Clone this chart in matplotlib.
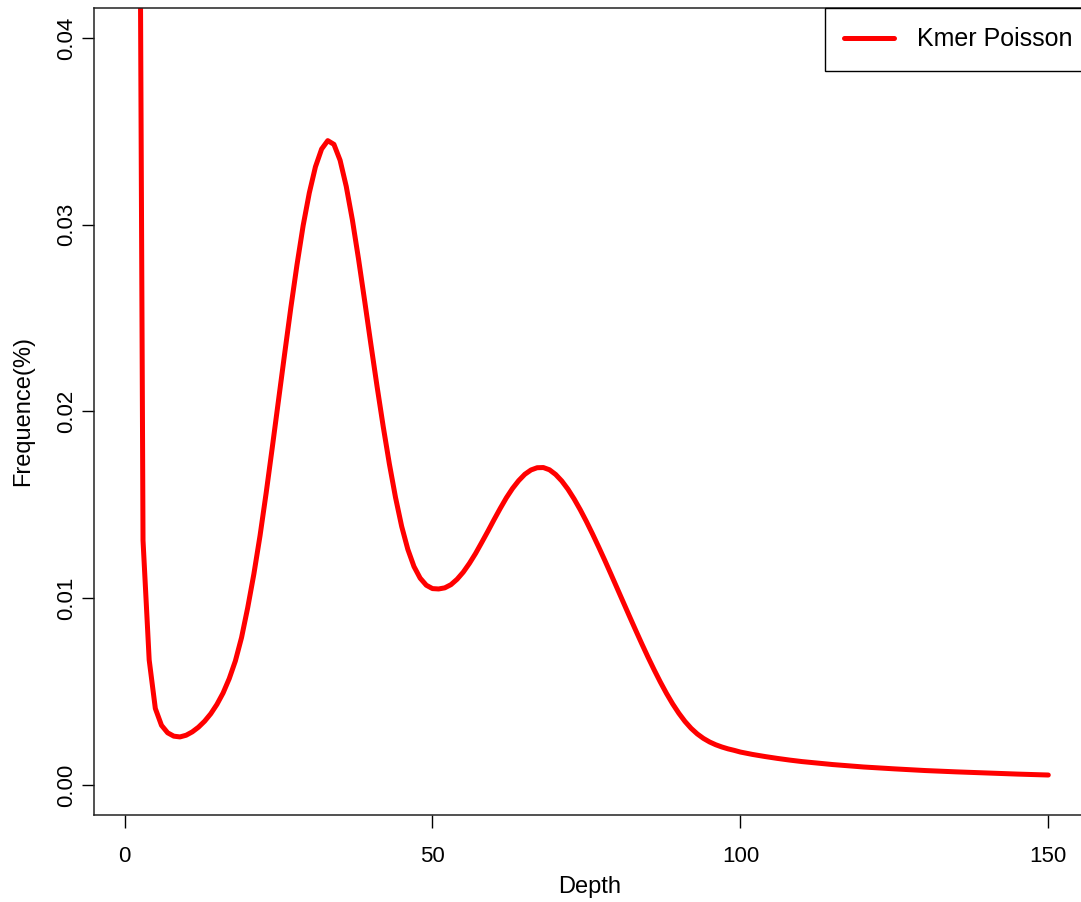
import matplotlib
matplotlib.use("Agg")
import matplotlib.pyplot as plt

plt.rcParams['font.family'] = ['Liberation Sans', 'DejaVu Sans']

# kmer depth and frequency of each depth
depth = list(range(2, 101)) + [102, 104, 106, 108, 110, 115, 120, 125, 130,
                               135, 140, 145, 150]
freq = [
    0.08400, 0.01310, 0.00670, 0.00410, 0.00320, 0.00280, 0.00262, 0.00258, 0.00267,  # 2-10
    0.00285, 0.00310, 0.00342, 0.00382, 0.00432, 0.00493, 0.00570, 0.00665, 0.00790, 0.00950,  # 11-20
    0.01130, 0.01335, 0.01565, 0.01810, 0.02060, 0.02310, 0.02555, 0.02785, 0.02995, 0.03170,  # 21-30
    0.03310, 0.03405, 0.03450, 0.03430, 0.03345, 0.03205, 0.03025, 0.02815, 0.02590, 0.02360,  # 31-40
    0.02135, 0.01920, 0.01720, 0.01540, 0.01385, 0.01262, 0.01170, 0.01108, 0.01070, 0.01052,  # 41-50
    0.01050, 0.01056, 0.01073, 0.01102, 0.01140, 0.01187, 0.01240, 0.01299, 0.01359, 0.01421,  # 51-60
    0.01481, 0.01538, 0.01588, 0.01630, 0.01664, 0.01687, 0.01699, 0.01700, 0.01688, 0.01663,  # 61-70
    0.01628, 0.01584, 0.01532, 0.01474, 0.01411, 0.01344, 0.01274, 0.01202, 0.01128, 0.01053,  # 71-80
    0.00978, 0.00903, 0.00829, 0.00756, 0.00685, 0.00617, 0.00552, 0.00491, 0.00435, 0.00385,  # 81-90
    0.00341, 0.00304, 0.00274, 0.00250, 0.00231, 0.00216, 0.00204, 0.00194, 0.00186, 0.00177,  # 91-100
    0.00164, 0.00153, 0.00143, 0.00134, 0.00126, 0.00110, 0.00097, 0.00087, 0.00078,
    0.00071, 0.00065, 0.00059, 0.00054,
]

x_ticks = [0, 50, 100, 150]
y_ticks = [0.00, 0.01, 0.02, 0.03, 0.04]
y_ticklabels = ["0.00", "0.01", "0.02", "0.03", "0.04"]

fig = plt.figure(figsize=(10.81, 9.02), dpi=100)
ax = fig.add_axes([94 / 1081, 87 / 902, 991 / 1081, 807 / 902])

ax.plot(depth, freq, color="red", lw=3.6, label="Kmer Poisson",
        solid_capstyle="round", solid_joinstyle="round")

ax.set_xlim(-4.96, 155.96)
ax.set_ylim(-0.0016, 0.0416)
ax.set_xticks(x_ticks)
ax.set_yticks(y_ticks)
ax.set_yticklabels(y_ticklabels, rotation=90, va="center")
ax.tick_params(direction="out", length=9, width=1, labelsize=16, colors="black")
ax.tick_params(axis="x", pad=13)
ax.tick_params(axis="y", pad=3)

for s in ax.spines.values():
    s.set_linewidth(1.1)
    s.set_color("#222222")

ax.set_xlabel("Depth", fontsize=17, labelpad=7)
ax.set_ylabel("Frequence(%)", fontsize=17, labelpad=16)

leg = ax.legend(loc="upper right", bbox_to_anchor=(1.007, 1.0), borderaxespad=0,
                fontsize=18, fancybox=False, framealpha=1, edgecolor="black",
                handlelength=2.0, handletextpad=0.9, borderpad=0.78)
leg.get_frame().set_linewidth(1.0)
leg.get_lines()[0].set_linewidth(3.6)

fig.savefig("out.png", dpi=100)
